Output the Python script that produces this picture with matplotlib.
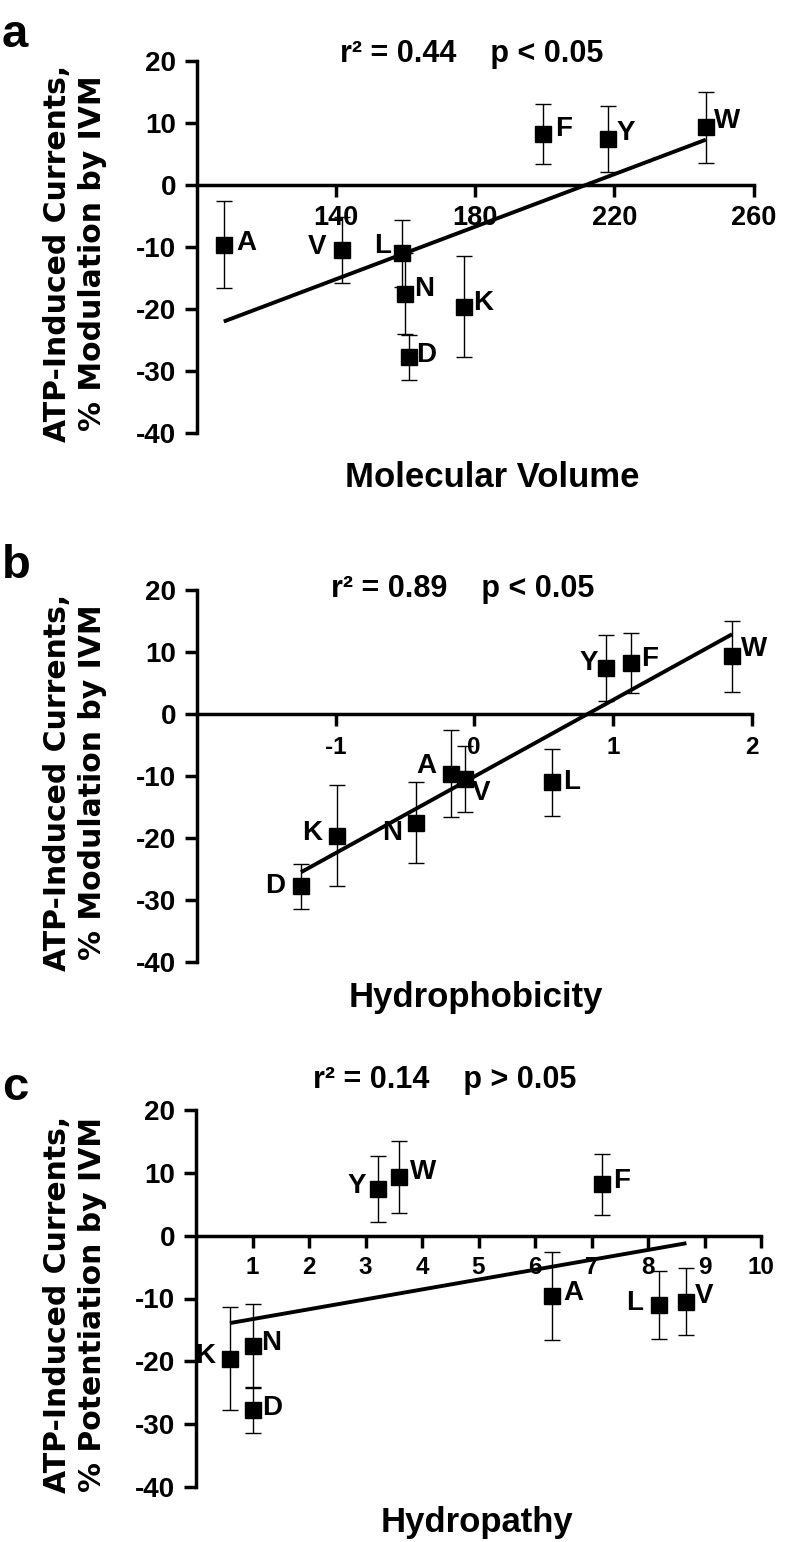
import numpy as np
import matplotlib
matplotlib.use('Agg')
import matplotlib.pyplot as plt

plt.rcParams['font.family'] = ['Liberation Sans', 'DejaVu Sans']
plt.rcParams['font.weight'] = 'bold'
plt.rcParams['axes.unicode_minus'] = False

# residues and the shared response (% modulation by IVM) with SEM
residues = ['A', 'V', 'L', 'N', 'D', 'K', 'F', 'Y', 'W']
modulation = [-9.6, -10.5, -11.0, -17.5, -27.8, -19.6, 8.2, 7.4, 9.3]
modulation_err = [7.0, 5.3, 5.4, 6.6, 3.6, 8.2, 4.85, 5.3, 5.7]

# x-values for the three physico-chemical scales
mol_volume = [107.7, 141.7, 158.9, 159.7, 160.9, 176.9, 199.4, 218.3, 246.3]
hydrophobicity = [-0.17, -0.07, 0.56, -0.42, -1.25, -0.99, 1.13, 0.95, 1.86]
hydropathy = [6.3, 8.68, 8.19, 1.0, 1.01, 0.6, 7.19, 3.22, 3.6]

stats_a = 'r² = 0.44    p < 0.05'
stats_b = 'r² = 0.89    p < 0.05'
stats_c = 'r² = 0.14    p > 0.05'

W, H = 786, 1542
fig = plt.figure(figsize=(W / 100, H / 100), dpi=100)

def px(x, y):
    # pixel position (from top-left) -> figure fraction
    return x / W, 1 - y / H

# label offsets in pixels (dx to nearest edge, dy upward)
offs_a = {'A': (13, 2), 'V': (-16, 3), 'L': (-11, 7), 'N': (9, 4), 'D': (7, 2),
          'K': (9, 4), 'F': (12, 5), 'Y': (8, 6), 'W': (8, 6)}
offs_b = {'A': (-14, 8), 'V': (7, -14), 'L': (11, 0), 'N': (-14, -10), 'D': (-16, 0),
          'K': (-15, 3), 'F': (10, 4), 'Y': (-8, 5), 'W': (9, 7)}
offs_c = {'A': (11, 3), 'V': (8, 6), 'L': (-16, 2), 'N': (9, 3), 'D': (9, 2),
          'K': (-15, 3), 'F': (11, 3), 'Y': (-12, 3), 'W': (11, 5)}

panels = [
    dict(letter='a', x=mol_volume, xlim=(100, 260), xticks=[140, 180, 220, 260],
         box=(197, 61, 753.5, 433), xts=19.5, xpad=5.8, offs=offs_a,
         stats=stats_a, spos=(472, 62), xlabel='Molecular Volume', xlpos=(492, 487),
         lpos=47, ylab2='% Modulation by IVM'),
    dict(letter='b', x=hydrophobicity, xlim=(-2, 2), xticks=[-1, 0, 1, 2],
         box=(197, 590, 751.5, 962), xts=17.5, xpad=7.0, offs=offs_b,
         stats=stats_b, spos=(463, 597), xlabel='Hydrophobicity', xlpos=(476, 1007),
         lpos=578, ylab2='% Modulation by IVM'),
    dict(letter='c', x=hydropathy, xlim=(0, 10), xticks=list(range(1, 11)),
         box=(196, 1110, 761, 1487), xts=17.5, xpad=6.0, offs=offs_c,
         stats=stats_c, spos=(445, 1088), xlabel='Hydropathy', xlpos=(477.5, 1532),
         lpos=1100, ylab2='% Potentiation by IVM'),
]

for p in panels:
    l, t, r, b = p['box']
    ax = fig.add_axes([l / W, 1 - b / H, (r - l) / W, (b - t) / H])
    ax.set_xlim(*p['xlim'])
    ax.set_ylim(-40, 20)
    for s in ['top', 'right']:
        ax.spines[s].set_visible(False)
    ax.spines['bottom'].set_position(('data', 0))
    for s in ['left', 'bottom']:
        ax.spines[s].set_linewidth(2.5)
    ax.set_yticks([-40, -30, -20, -10, 0, 10, 20])
    ax.set_xticks(p['xticks'])
    ax.set_xticklabels([str(v) for v in p['xticks']])
    ax.tick_params(axis='y', direction='out', length=8.6, width=2.5, pad=6.5,
                   labelsize=20)
    ax.tick_params(axis='x', direction='out', length=8.6, width=2.5, pad=p['xpad'],
                   labelsize=p['xts'])
    ax.patch.set_alpha(0)

    # regression line over the data range
    xs = np.array(p['x'])
    ys = np.array(modulation)
    k, c0 = np.polyfit(xs, ys, 1)
    xl = np.array([xs.min(), xs.max()])
    ax.plot(xl, k * xl + c0, color='black', lw=2.8, solid_capstyle='butt', zorder=2)

    ax.errorbar(xs, ys, yerr=modulation_err, fmt='s', color='black', ms=12,
                capsize=6, elinewidth=1, capthick=1, zorder=3)

    for name, xv, yv in zip(residues, p['x'], modulation):
        dx, dy = p['offs'][name]
        ha = 'left' if dx >= 0 else 'right'
        ax.annotate(name, (xv, yv), xytext=(dx * 0.72, dy * 0.72),
                    textcoords='offset points', ha=ha, va='center',
                    fontsize=20, fontweight='bold', zorder=4)

    fx, fy = px(*p['spos'])
    fig.text(fx, fy, p['stats'], ha='center', va='baseline', fontsize=22,
             fontweight='bold')
    fx, fy = px(*p['xlpos'])
    fig.text(fx, fy, p['xlabel'], ha='center', va='baseline', fontsize=25,
             fontweight='bold')
    fx, fy = px(2, p['lpos'])
    fig.text(fx, fy, p['letter'], ha='left', va='baseline', fontsize=34,
             fontweight='bold')
    fx, fy = px(107, (t + b) / 2 + 6)
    fig.text(fx, fy, 'ATP-Induced Currents,\n' + p['ylab2'], rotation=90,
             ha='right', va='center', multialignment='center', fontsize=21.5,
             fontweight='bold', family=['DejaVu Sans'], linespacing=1.25)

fig.savefig('out.png', dpi=100)
